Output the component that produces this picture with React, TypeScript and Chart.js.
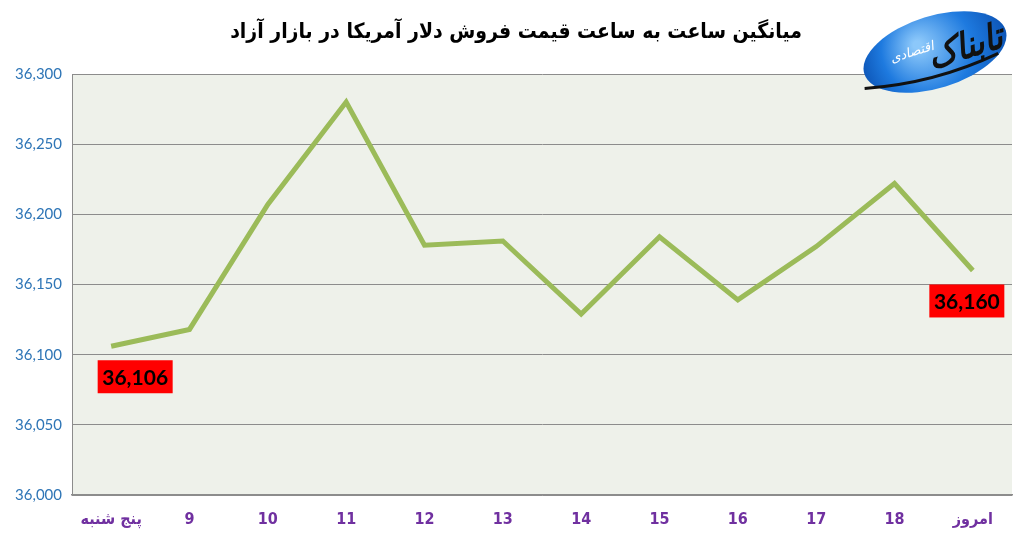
import React, { useEffect, useRef } from "react";
import { Chart, registerables } from "chart.js";

Chart.register(...registerables);

const TITLE = "میانگین ساعت به ساعت قیمت فروش دلار آمریکا در بازار آزاد";
const categories = ["پنج شنبه", "9", "10", "11", "12", "13", "14", "15", "16", "17", "18", "امروز"];
const prices = [36106, 36118, 36207, 36280, 36178, 36181, 36129, 36184, 36139, 36177, 36222, 36160];
const labeledPoints = [0, 11];
const yMin = 36000;
const yMax = 36300;
const yStep = 50;

const fmt = (v: number) => v.toLocaleString("en-US");

const bgPlugin = {
  id: "plotBg",
  beforeDraw(chart: any) {
    const { ctx, chartArea } = chart;
    ctx.save();
    ctx.fillStyle = "#EEF1EA";
    ctx.fillRect(chartArea.left, chartArea.top, chartArea.right - chartArea.left, chartArea.bottom - chartArea.top);
    ctx.restore();
  },
};

const decorPlugin = {
  id: "decor",
  afterDraw(chart: any) {
    const { ctx } = chart;
    ctx.save();
    // title
    ctx.fillStyle = "#000";
    ctx.font = "bold 21px 'DejaVu Sans Condensed', 'DejaVu Sans', sans-serif";
    ctx.textAlign = "center";
    ctx.textBaseline = "middle";
    ctx.direction = "rtl";
    ctx.fillText(TITLE, 516, 33);
    // logo
    ctx.translate(935, 52);
    ctx.rotate(-0.3);
    const g = ctx.createRadialGradient(-15, -12, 4, 0, 0, 80);
    g.addColorStop(0, "#8CC8FA");
    g.addColorStop(0.55, "#1E7ADF");
    g.addColorStop(1, "#0A4FB0");
    ctx.fillStyle = g;
    ctx.beginPath();
    ctx.ellipse(0, 0, 74, 36, 0, 0, Math.PI * 2);
    ctx.fill();
    ctx.fillStyle = "#111";
    ctx.font = "bold italic 36px 'DejaVu Sans Condensed', sans-serif";
    ctx.fillText("تابناک", 30, 6);
    ctx.strokeStyle = "#111";
    ctx.lineWidth = 3;
    ctx.beginPath();
    ctx.moveTo(-78, 14);
    ctx.quadraticCurveTo(-10, 30, 60, 20);
    ctx.stroke();
    ctx.fillStyle = "#fff";
    ctx.font = "italic 13px 'DejaVu Sans', sans-serif";
    ctx.fillText("اقتصادی", -22, -6);
    ctx.restore();
  },
};

const labelPlugin = {
  id: "valueLabels",
  afterDatasetsDraw(chart: any) {
    const { ctx } = chart;
    const meta = chart.getDatasetMeta(0);
    ctx.save();
    ctx.font = "bold 21px Lato, 'Open Sans', sans-serif";
    ctx.textAlign = "center";
    ctx.textBaseline = "middle";
    labeledPoints.forEach((i) => {
      const pt = meta.data[i];
      const dx = i === 0 ? 24 : -6;
      const cx = pt.x + dx;
      const top = pt.y + 14;
      const w = 75;
      const h = 33;
      ctx.fillStyle = "#FF0000";
      ctx.fillRect(cx - w / 2, top, w, h);
      ctx.fillStyle = "#000";
      ctx.fillText(fmt(prices[i]), cx, top + h / 2 + 1);
    });
    ctx.restore();
  },
};

export default function App() {
  const ref = useRef<HTMLCanvasElement>(null);
  useEffect(() => {
    document.body.style.margin = "0";
    const chart = new Chart(ref.current!, {
      type: "line",
      data: {
        labels: categories,
        datasets: [
          {
            data: prices,
            borderColor: "#9BBB59",
            borderWidth: 5,
            pointRadius: 0,
            tension: 0,
            fill: false,
          },
        ],
      },
      options: {
        animation: false,
        responsive: false,
        devicePixelRatio: 1,
        layout: { padding: { left: 0, right: 7, top: 74, bottom: 0 } },
        plugins: { legend: { display: false }, tooltip: { enabled: false }, title: { display: false } },
        scales: {
          x: {
            offset: true,
            grid: { display: false, drawTicks: false },
            border: { display: true, color: "#8C8C8C", width: 1.5 },
            ticks: {
              color: "#7030A0",
              font: { family: "'DejaVu Sans Condensed', 'DejaVu Sans', sans-serif", size: 16, weight: "bold" },
              padding: 15,
              maxRotation: 0,
              autoSkip: false,
            },
            afterFit(scale: any) {
              scale.height = 45;
            },
          },
          y: {
            min: yMin,
            max: yMax,
            grid: { color: "#8C8C8C", lineWidth: 1, drawTicks: false },
            border: { display: true, color: "#8C8C8C", width: 1 },
            ticks: {
              stepSize: yStep,
              color: "#2E75B6",
              font: { family: "Lato, 'Open Sans', sans-serif", size: 15 },
              padding: 10,
              callback: (v: any) => fmt(Number(v)),
            },
            afterFit(scale: any) {
              scale.width = 72;
            },
          },
        },
      },
      plugins: [bgPlugin, labelPlugin, decorPlugin],
    });
    return () => chart.destroy();
  }, []);
  return <canvas ref={ref} width={1019} height={540} style={{ display: "block" }} />;
}
